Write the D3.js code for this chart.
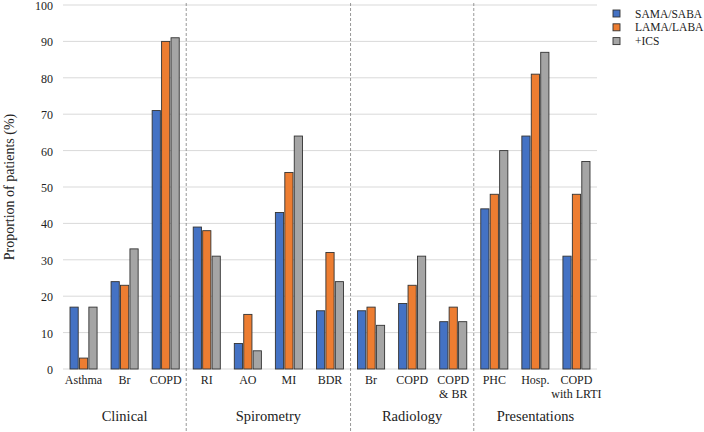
<!DOCTYPE html>
<html>
<head>
<meta charset="utf-8">
<script src="https://cdn.jsdelivr.net/npm/d3@7"></script>
<style>
  body { margin: 0; background: #fff; }
  svg { display: block; }
</style>
</head>
<body>
<svg id="chart" width="704" height="432"></svg>
<script>
// categories (one line or two lines per label) and the group each belongs to
const categories = [
  ["Asthma"], ["Br"], ["COPD"],
  ["RI"], ["AO"], ["MI"], ["BDR"],
  ["Br"], ["COPD"], ["COPD", "& BR"],
  ["PHC"], ["Hosp."], ["COPD", "with LRTI"]
]
const groups = ["Clinical", "Spirometry", "Radiology", "Presentations"]
const groupSizes = [3, 4, 3, 3]

const seriesNames = ["SAMA/SABA", "LAMA/LABA", "+ICS"]
const seriesColors = ["#4472C4", "#ED7D31", "#A5A5A5"]

const samaSaba = [17, 24, 71, 39, 7, 43, 16, 16, 18, 13, 44, 64, 31]
const lamaLaba = [3, 23, 90, 38, 15, 54, 32, 17, 23, 17, 48, 81, 48]
const ics = [17, 33, 91, 31, 5, 64, 24, 12, 31, 13, 60, 87, 57]
const seriesValues = [samaSaba, lamaLaba, ics]

const yTicks = [0, 10, 20, 30, 40, 50, 60, 70, 80, 90, 100]

const FONT = '"Liberation Serif"'
const svg = d3.select("#chart")
const plotLeft = 63, plotRight = 597, plotTop = 5, plotBottom = 369

const idx = categories.map((d, i) => i)
const x = d3.scaleBand().domain(idx).range([plotLeft, plotRight]).padding(0)
const x1 = d3.scaleBand().domain(d3.range(seriesNames.length))
  .range([7, x.bandwidth() - 7]).paddingInner(0.13)
const y = d3.scaleLinear().domain([0, 100]).range([plotBottom, plotTop])

// gridlines
svg.append("g")
  .selectAll("line")
  .data(yTicks)
  .join("line")
  .attr("x1", plotLeft).attr("x2", plotRight)
  .attr("y1", (d) => y(d)).attr("y2", (d) => y(d))
  .attr("stroke", "#d9d9d9").attr("stroke-width", 1)

// y axis labels
svg.append("g")
  .selectAll("text")
  .data(yTicks)
  .join("text")
  .attr("x", 53).attr("y", (d) => y(d))
  .attr("dy", "0.42em")
  .attr("text-anchor", "end")
  .attr("font-family", FONT)
  .attr("font-size", 12)
  .attr("fill", "#222")
  .text((d) => d)

svg.append("text")
  .attr("transform", `translate(14,${(plotTop + plotBottom) / 2}) rotate(-90)`)
  .attr("text-anchor", "middle")
  .attr("font-family", FONT)
  .attr("font-size", 14)
  .attr("fill", "#222")
  .text("Proportion of patients (%)")

// bars
const cat = svg.append("g")
  .selectAll("g")
  .data(idx)
  .join("g")
  .attr("transform", (i) => `translate(${x(i)},0)`)

cat.selectAll("rect")
  .data((i) => seriesValues.map((s, k) => ({ k, v: s[i] })))
  .join("rect")
  .attr("x", (d) => x1(d.k))
  .attr("width", x1.bandwidth())
  .attr("y", (d) => y(d.v))
  .attr("height", (d) => y(0) - y(d.v))
  .attr("fill", (d) => seriesColors[d.k])
  .attr("stroke", "#333")
  .attr("stroke-width", 0.9)

// category labels
cat.append("text")
  .attr("text-anchor", "middle")
  .attr("font-family", FONT)
  .attr("font-size", 12)
  .attr("fill", "#222")
  .attr("x", x.bandwidth() / 2)
  .selectAll("tspan")
  .data((i) => categories[i])
  .join("tspan")
  .attr("x", x.bandwidth() / 2)
  .attr("y", (d, j) => 384 + j * 13.5)
  .text((d) => d)

// group labels and separators
let start = 0
groupSizes.forEach((n, g) => {
  const x0 = x(start)
  const xEnd = start + n < categories.length ? x(start + n) : plotRight
  svg.append("text")
    .attr("x", (x0 + xEnd) / 2)
    .attr("y", 421)
    .attr("text-anchor", "middle")
    .attr("font-family", FONT)
    .attr("font-size", 14.5)
    .attr("fill", "#222")
    .text(groups[g])
  if (start + n < categories.length) {
    svg.append("line")
      .attr("x1", xEnd).attr("x2", xEnd)
      .attr("y1", 3).attr("y2", 431)
      .attr("stroke", "#7f7f7f")
      .attr("stroke-width", 0.8)
      .attr("stroke-dasharray", "3,2")
  }
  start += n
})

// legend
const legend = svg.append("g")
  .selectAll("g")
  .data(seriesNames)
  .join("g")
  .attr("transform", (d, i) => `translate(613,${10 + i * 13.8})`)

legend.append("rect")
  .attr("width", 7).attr("height", 7)
  .attr("fill", (d, i) => seriesColors[i])
  .attr("stroke", "#333").attr("stroke-width", 0.9)

legend.append("text")
  .attr("x", 22).attr("y", 3.5).attr("dy", "0.35em")
  .attr("font-family", FONT)
  .attr("font-size", 11.5)
  .attr("fill", "#222")
  .text((d) => d)
</script>
</body>
</html>
